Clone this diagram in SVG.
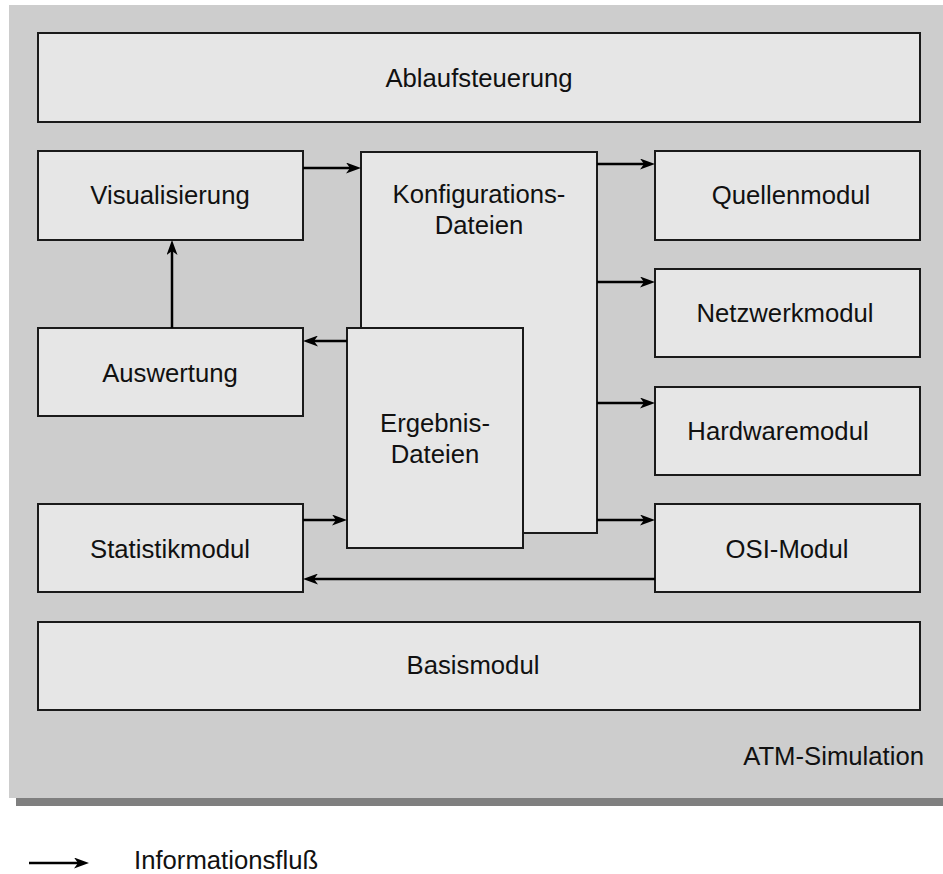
<svg xmlns="http://www.w3.org/2000/svg" width="943" height="874" viewBox="0 0 943 874">
  <defs>
    <style>
      .box { fill: #e6e6e6; stroke: #1a1a1a; stroke-width: 2; }
      .lbl { font-family: "Liberation Sans", Arial, Helvetica, sans-serif; font-size: 25.7px; fill: #111; text-anchor: middle; }
      .flow { fill: none; stroke: #000; stroke-width: 2.5; marker-end: url(#head); }
    </style>
    <marker id="head" viewBox="0 0 15 11" refX="6" refY="5.5" markerWidth="15" markerHeight="11" markerUnits="userSpaceOnUse" orient="auto">
      <path d="M0,0 L15,5.5 L0,11 L4,5.5 z" fill="#000"/>
    </marker>
  </defs>

  <!-- enclosing panel with drop shadow -->
  <rect x="16" y="798" width="927" height="8" fill="#7f7f7f"/>
  <rect x="9" y="5" width="934" height="793" fill="#cdcdcd"/>

  <g id="ablaufsteuerung">
    <rect class="box" x="38" y="33" width="882" height="89"/>
    <text class="lbl" x="479" y="87">Ablaufsteuerung</text>
  </g>

  <g id="visualisierung">
    <rect class="box" x="38" y="151" width="265" height="89"/>
    <text class="lbl" x="170" y="204">Visualisierung</text>
  </g>

  <g id="auswertung">
    <rect class="box" x="38" y="328" width="265" height="88"/>
    <text class="lbl" x="170" y="382">Auswertung</text>
  </g>

  <g id="statistikmodul">
    <rect class="box" x="38" y="504" width="265" height="88"/>
    <text class="lbl" x="170" y="558">Statistikmodul</text>
  </g>

  <g id="konfigurationsdateien">
    <rect class="box" x="361" y="152" width="236" height="381"/>
    <text class="lbl" x="479" y="203">Konfigurations-</text>
    <text class="lbl" x="479" y="234">Dateien</text>
  </g>

  <g id="ergebnisdateien">
    <rect class="box" x="347" y="328" width="176" height="220"/>
    <text class="lbl" x="435" y="432">Ergebnis-</text>
    <text class="lbl" x="435" y="463">Dateien</text>
  </g>

  <g id="quellenmodul">
    <rect class="box" x="655" y="151" width="265" height="89"/>
    <text class="lbl" x="791" y="204">Quellenmodul</text>
  </g>

  <g id="netzwerkmodul">
    <rect class="box" x="655" y="269" width="265" height="88"/>
    <text class="lbl" x="785" y="322">Netzwerkmodul</text>
  </g>

  <g id="hardwaremodul">
    <rect class="box" x="655" y="387" width="265" height="88"/>
    <text class="lbl" x="778" y="440">Hardwaremodul</text>
  </g>

  <g id="osimodul">
    <rect class="box" x="655" y="504" width="265" height="88"/>
    <text class="lbl" x="787" y="558">OSI-Modul</text>
  </g>

  <g id="basismodul">
    <rect class="box" x="38" y="622" width="882" height="88"/>
    <text class="lbl" x="473" y="674">Basismodul</text>
  </g>

  <g id="panel-title">
    <text class="lbl" x="924" y="765" style="text-anchor: end">ATM-Simulation</text>
  </g>

  <!-- information flow connectors -->
  <g id="connectors">
    <line class="flow" x1="303" y1="168" x2="352" y2="168"/>
    <line class="flow" x1="597" y1="164" x2="646" y2="164"/>
    <line class="flow" x1="597" y1="282" x2="646" y2="282"/>
    <line class="flow" x1="597" y1="403" x2="646" y2="403"/>
    <line class="flow" x1="597" y1="520" x2="646" y2="520"/>
    <line class="flow" x1="347" y1="341" x2="312" y2="341"/>
    <line class="flow" x1="303" y1="520" x2="338" y2="520"/>
    <line class="flow" x1="655" y1="579" x2="312" y2="579"/>
    <line class="flow" x1="172" y1="328" x2="172" y2="249"/>
  </g>

  <!-- legend -->
  <g id="legend">
    <line class="flow" x1="29" y1="863" x2="80" y2="863"/>
    <text class="lbl" x="134" y="869" style="text-anchor: start">Informationsfluß</text>
  </g>
</svg>
